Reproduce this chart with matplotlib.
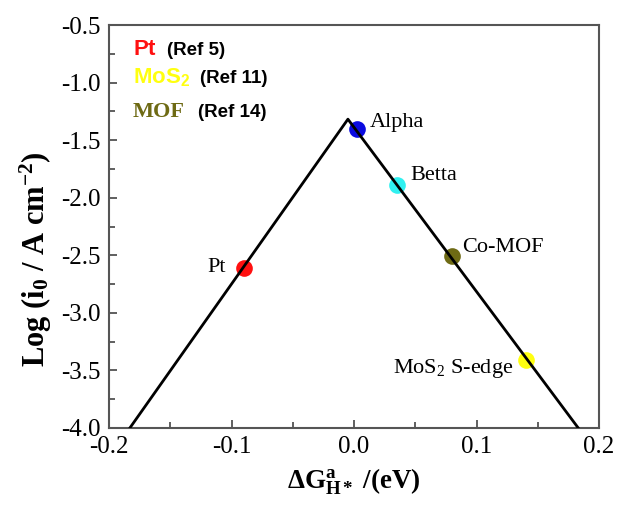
import numpy as np
import matplotlib
matplotlib.use("Agg")
import matplotlib.pyplot as plt
from matplotlib.ticker import MultipleLocator

# volcano line
volcano_x = [-0.183, -0.005, 0.183]
volcano_y = [-4.0, -1.317, -4.0]

# catalysts
names = ["Pt", "Alpha", "Betta", "Co-MOF", "MoS$_2$ S-edge"]
dG = [-0.090, 0.002, 0.035, 0.080, 0.140]
log_i0 = [-2.61, -1.40, -1.89, -2.51, -3.41]
colors = ["#ff1010", "#0a0ae0", "#30f0f0", "#6e6a14", "#ffff10"]

# reference labels
ref_names = [r"$\mathsf{Pt}$", r"$\mathsf{MoS_2}$", "MOF"]
ref_tags = ["(Ref 5)", "(Ref 11)", "(Ref 14)"]

plt.rcParams['font.family'] = ['Liberation Serif', 'DejaVu Serif']
plt.rcParams['mathtext.fontset'] = 'custom'
plt.rcParams['mathtext.rm'] = 'Liberation Serif'
plt.rcParams['mathtext.it'] = 'Liberation Serif:italic'
plt.rcParams['mathtext.bf'] = 'Liberation Serif:bold'
plt.rcParams['mathtext.sf'] = 'Liberation Sans:bold'

fig = plt.figure(figsize=(6.18, 5.08), dpi=100)
ax = fig.add_axes([0.1764, 0.1575, 0.793, 0.793])

ax.plot(volcano_x, volcano_y, color='black', lw=2.0, zorder=3)
for x, y, c in zip(dG, log_i0, colors):
    ax.plot(x, y, 'o', color=c, ms=12, mec='none', zorder=2)

# point labels (offsets from each point)
lab_dx = [-0.015, 0.011, 0.011, 0.008, -0.010]
lab_dy = [-0.038, 0.013, 0.042, 0.036, -0.116]
lab_ha = ['right', 'left', 'left', 'left', 'right']
for i in range(len(names)):
    ax.text(dG[i] + lab_dx[i], log_i0[i] + lab_dy[i], names[i], ha=lab_ha[i],
            va='baseline', fontsize=16)

# reference legend
ref_y = [-0.761, -1.004, -1.30]
ref_x2 = [-0.1527, -0.1257, -0.1273]
ref_fonts = ['Liberation Sans', 'Liberation Sans', 'Liberation Serif']
ref_colors = [colors[0], colors[4], colors[3]]
for i in range(3):
    ax.text(-0.1804, ref_y[i], ref_names[i], color=ref_colors[i], fontsize=16,
            fontweight='bold', family=ref_fonts[i], va='baseline')
    ax.text(ref_x2[i], ref_y[i], ref_tags[i], fontsize=13.5, fontweight='bold',
            family='Liberation Sans', va='baseline')

ax.set_xlim(-0.2, 0.2)
ax.set_ylim(-4.0, -0.5)
ax.xaxis.set_minor_locator(MultipleLocator(0.05))
ax.yaxis.set_minor_locator(MultipleLocator(0.25))
ax.set_xticks([-0.2, -0.1, 0.0, 0.1, 0.2])
ax.set_xticklabels(['-0.2', '-0.1', '0.0', '0.1', '0.2'])
ax.set_yticks(np.arange(-4.0, -0.49, 0.5))
ax.set_yticklabels(['%.1f' % v for v in np.arange(-4.0, -0.49, 0.5)])
ax.tick_params(which='both', direction='in', labelsize=18, color='#444444')
ax.tick_params(which='major', length=6, width=1.2, pad=6)
ax.tick_params(which='minor', length=4, width=1.2)
for s in ax.spines.values():
    s.set_color('#555555')
    s.set_linewidth(1.5)

ax.set_xlabel(r'$\mathbf{\Delta G^{a}_{H*}}$ /(eV)', fontsize=19.5, fontweight='bold', labelpad=6)
ax.set_ylabel(r'Log (i$_\mathbf{0}$ / A cm$^\mathbf{-2}$)', fontsize=22, fontweight='bold')
ax.yaxis.set_label_coords(-0.112, 0.42)

fig.savefig('out.png', dpi=100)
